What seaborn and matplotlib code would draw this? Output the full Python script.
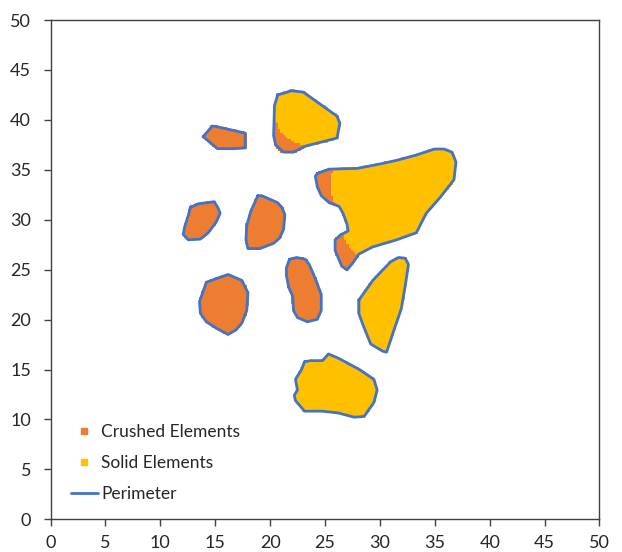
import numpy as np
import pandas as pd
import seaborn as sns
import matplotlib.pyplot as plt
from matplotlib.path import Path
from matplotlib.lines import Line2D

sns.set_theme(style="white")
plt.rcParams['font.family'] = ['Lato', 'DejaVu Sans']

# Particle perimeters (x, y in mm)
p1_x = [20.69, 21.95, 23.03, 26.10, 26.35, 26.10, 23.21, 22.13, 21.23, 20.51, 20.32, 20.40]
p1_y = [42.50, 42.92, 42.78, 40.37, 39.67, 38.18, 37.37, 36.77, 36.77, 37.47, 38.43, 41.44]

p2_x = [24.30, 25.38, 27.91, 30.07, 31.52, 33.32, 34.95, 35.85, 36.57, 36.93, 36.75, 35.49,
        34.22, 33.32, 31.52, 29.35, 28.09, 27.55, 27.00, 26.53, 25.92, 25.92, 26.46, 27.11,
        27.00, 26.64, 26.28, 25.38, 24.66, 24.30, 24.12]
p2_y = [34.64, 35.07, 35.14, 35.60, 35.95, 36.48, 37.08, 37.08, 36.77, 35.78, 34.01, 32.24,
        30.64, 28.70, 27.99, 27.28, 26.57, 25.69, 24.98, 25.34, 26.93, 27.99, 28.52, 28.87,
        29.58, 30.64, 31.35, 31.71, 32.41, 33.30, 34.36]

p3_x = [13.90, 14.73, 15.20, 17.73, 17.73, 16.72, 15.20, 14.55]
p3_y = [38.32, 39.38, 39.31, 38.68, 37.19, 37.12, 37.12, 37.72]

p4_x = [12.74, 13.47, 14.91, 15.27, 15.45, 15.09, 14.37, 13.65, 12.56, 12.09, 12.20, 12.56]
p4_y = [31.25, 31.60, 31.81, 31.17, 30.64, 29.76, 28.70, 28.06, 27.99, 28.52, 29.23, 30.47]

p5_x = [18.88, 19.24, 20.69, 21.12, 21.34, 21.23, 20.87, 20.32, 19.06, 17.98, 17.80, 17.87, 18.23]
p5_y = [32.41, 32.41, 31.71, 31.17, 30.47, 29.05, 28.17, 27.64, 27.11, 27.11, 27.99, 29.40, 30.82]

p6_x = [14.19, 15.09, 16.17, 17.44, 17.98, 17.87, 17.44, 16.90, 16.17, 15.09, 14.19, 13.65, 13.57]
p6_y = [23.74, 24.10, 24.52, 23.92, 22.68, 20.91, 19.67, 18.97, 18.51, 19.14, 19.78, 20.63, 21.80]

p7_x = [21.77, 22.42, 23.21, 23.57, 24.12, 24.66, 24.66, 24.30, 23.39, 22.49, 22.13, 22.06,
        21.70, 21.48, 21.48]
p7_y = [26.04, 26.22, 26.04, 25.51, 24.10, 22.51, 20.91, 20.03, 19.78, 20.21, 20.91, 22.33,
        23.21, 24.45, 25.16]

p8_x = [28.09, 29.35, 30.98, 31.70, 32.31, 32.60, 32.31, 31.95, 31.34, 30.61, 30.25, 29.17,
        28.45, 28.09]
p8_y = [21.97, 23.92, 25.80, 26.22, 26.15, 25.51, 23.39, 21.09, 19.14, 16.74, 16.84, 17.55,
        19.50, 20.59]

p9_x = [23.14, 23.68, 24.77, 25.31, 26.21, 28.19, 29.46, 29.75, 29.46, 28.56, 27.65, 26.21,
        24.77, 23.14, 22.31, 22.20, 22.49, 22.31, 22.85]
p9_y = [15.78, 15.89, 15.89, 16.56, 16.14, 14.97, 14.01, 12.95, 11.71, 10.30, 10.23, 10.65,
        10.83, 10.83, 11.89, 12.42, 12.95, 14.01, 14.97]

# Particles whose every element is crushed
fully_crushed = ["P3", "P4", "P5", "P6", "P7"]

# Crushed zones inside partially crushed particles
crush_a_x = [19.5, 20.60, 21.00, 21.50, 22.30, 23.10, 23.60, 23.60, 19.5]
crush_a_y = [40.2, 40.00, 39.00, 38.40, 37.90, 37.60, 37.40, 36.00, 36.00]
crush_b_x = [23.5, 25.85, 25.70, 25.60, 25.75, 26.20, 23.5]
crush_b_y = [36.0, 36.00, 34.80, 33.50, 32.00, 31.20, 31.2]
crush_c_x = [25.5, 26.70, 27.10, 27.60, 28.20, 28.70, 27.50, 25.5]
crush_c_y = [29.6, 28.60, 27.60, 26.80, 26.30, 25.60, 24.40, 24.4]

particles = {
    "P1": (p1_x, p1_y), "P2": (p2_x, p2_y), "P3": (p3_x, p3_y),
    "P4": (p4_x, p4_y), "P5": (p5_x, p5_y), "P6": (p6_x, p6_y),
    "P7": (p7_x, p7_y), "P8": (p8_x, p8_y), "P9": (p9_x, p9_y),
}
crush_zones = [Path(np.column_stack([crush_a_x, crush_a_y])),
               Path(np.column_stack([crush_b_x, crush_b_y])),
               Path(np.column_stack([crush_c_x, crush_c_y]))]

# Element mesh: square elements of 0.2 mm inside each perimeter
h = 0.2
gx, gy = np.meshgrid(np.arange(h / 2, 50, h), np.arange(h / 2, 50, h))
grid = np.column_stack([gx.ravel(), gy.ravel()])

rows = []
perim_rows = []
for name, (px, py) in particles.items():
    path = Path(np.column_stack([px, py]))
    pts = grid[path.contains_points(grid)]
    if name in fully_crushed:
        crushed = np.ones(len(pts), dtype=bool)
    else:
        crushed = np.zeros(len(pts), dtype=bool)
        for z in crush_zones:
            crushed |= z.contains_points(pts)
    for (x, y), c in zip(pts, crushed):
        rows.append((x, y, "Crushed Elements" if c else "Solid Elements"))
    for i, (x, y) in enumerate(list(zip(px, py)) + [(px[0], py[0])]):
        perim_rows.append((name, i, x, y))

elements = pd.DataFrame(rows, columns=["x", "y", "state"])
perimeter = pd.DataFrame(perim_rows, columns=["particle", "order", "x", "y"])

colors = {"Crushed Elements": "#ED7D31", "Solid Elements": "#FFC000"}
line_color = "#4472C4"

fig = plt.figure(figsize=(6.22, 5.52), dpi=100)
ax = fig.add_axes([0.0812, 0.0592, 0.8826, 0.9045])

sns.scatterplot(data=elements, x="x", y="y", hue="state", palette=colors,
                marker="s", s=6, linewidth=0, legend=False, ax=ax)
sns.lineplot(data=perimeter, x="x", y="y", units="particle", estimator=None,
             sort=False, color=line_color, linewidth=2, legend=False, ax=ax)

ax.set_xlim(0, 50)
ax.set_ylim(0, 50)
ax.set_xticks(range(0, 51, 5))
ax.set_yticks(range(0, 51, 5))
ax.set_xlabel("")
ax.set_ylabel("")
ax.tick_params(axis="both", which="both", direction="out", length=5, width=1,
               color="#404040", labelsize=13, labelcolor="#262626",
               left=True, bottom=True)
ax.tick_params(axis="y", pad=9)
ax.tick_params(axis="x", pad=6)
for s in ax.spines.values():
    s.set_color("#404040")
    s.set_linewidth(1)

handles = [
    Line2D([], [], ls="", marker="s", markersize=4, color=colors["Crushed Elements"]),
    Line2D([], [], ls="", marker="s", markersize=4, color=colors["Solid Elements"]),
    Line2D([], [], color=line_color, lw=2),
]
ax.legend(handles, ["Crushed Elements", "Solid Elements", "Perimeter"],
          loc="lower left", bbox_to_anchor=(0.008, 0.004), frameon=False,
          fontsize=12.5, handlelength=1.6, handletextpad=0.15, labelspacing=0.85)

fig.savefig("out.png", dpi=100)
